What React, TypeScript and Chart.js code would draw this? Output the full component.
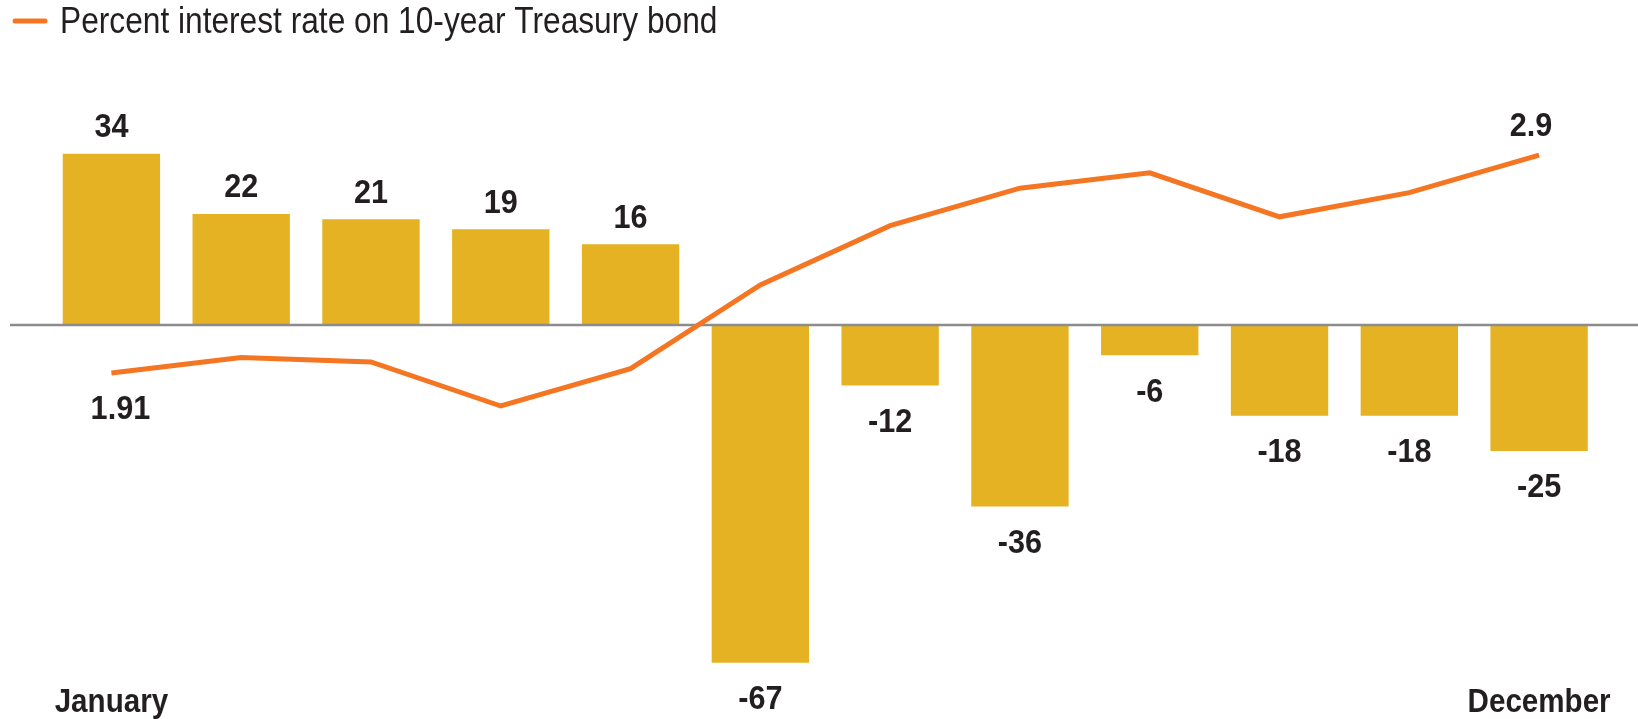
import React, { useEffect, useRef } from "react";
import { Chart, registerables } from "chart.js";

Chart.register(...registerables);

const months = [
  "January", "February", "March", "April", "May", "June",
  "July", "August", "September", "October", "November", "December",
];
const flowValues = [34, 22, 21, 19, 16, -67, -12, -36, -6, -18, -18, -25];
const rateValues = [1.91, 1.98, 1.96, 1.76, 1.93, 2.31, 2.58, 2.75, 2.82, 2.62, 2.73, 2.9];
const shownTickIndexes = [0, 11];
const labeledRateIndexes = [0, 11];
const legendLabel = "Percent interest rate on 10-year Treasury bond";

const BAR_COLOR = "#E5B223";
const LINE_COLOR = "#F47622";
const TEXT_COLOR = "#231F20";
const FONT = '"Liberation Sans", Arial, sans-serif';

function drawNarrowText(ctx: CanvasRenderingContext2D, text: string, x: number, y: number, sx: number) {
  ctx.save();
  ctx.translate(x, y);
  ctx.scale(sx, 1);
  ctx.fillText(text, 0, 0);
  ctx.restore();
}

const annotatePlugin = {
  id: "annotate",
  afterDatasetDraw(chart: any, args: any) {
    if (args.meta.type !== "bar") return;
    const ctx = chart.ctx;
    const y = chart.scales.yBar.getPixelForValue(0);
    ctx.save();
    ctx.strokeStyle = "#8C8C8C";
    ctx.lineWidth = 2.7;
    ctx.beginPath();
    ctx.moveTo(10, y);
    ctx.lineTo(chart.width, y);
    ctx.stroke();
    ctx.restore();
  },
  afterDatasetsDraw(chart: any) {
    const ctx = chart.ctx;
    ctx.save();
    ctx.fillStyle = TEXT_COLOR;
    ctx.textAlign = "center";
    ctx.textBaseline = "middle";
    ctx.font = `bold 34px ${FONT}`;
    const barMeta = chart.getDatasetMeta(0);
    barMeta.data.forEach((el: any, i: number) => {
      const v = flowValues[i];
      const p = el.getProps(["x", "y"], true);
      const ty = v >= 0 ? p.y - 26 : p.y + 37;
      drawNarrowText(ctx, String(v), p.x, ty, 0.9);
    });
    const lineMeta = chart.getDatasetMeta(1);
    labeledRateIndexes.forEach((i, k) => {
      const el = lineMeta.data[i];
      const p = el.getProps(["x", "y"], true);
      const v = rateValues[i];
      const below = k === 0;
      const tx = below ? p.x + 9 : p.x - 8;
      const ty = below ? p.y + 37 : p.y - 29;
      drawNarrowText(ctx, String(v), tx, ty, 0.9);
    });
    // category labels along the x scale
    const xScale = chart.scales.x;
    ctx.textBaseline = "alphabetic";
    shownTickIndexes.forEach((i) => {
      drawNarrowText(ctx, months[i], xScale.getPixelForValue(i), 711.5, 0.87);
    });
    ctx.restore();
  },
  afterDraw(chart: any) {
    const ctx = chart.ctx;
    ctx.save();
    ctx.strokeStyle = LINE_COLOR;
    ctx.lineWidth = 5;
    ctx.lineCap = "round";
    ctx.beginPath();
    ctx.moveTo(15, 21);
    ctx.lineTo(45, 21);
    ctx.stroke();
    ctx.fillStyle = TEXT_COLOR;
    ctx.textAlign = "left";
    ctx.textBaseline = "alphabetic";
    ctx.font = `36px ${FONT}`;
    drawNarrowText(ctx, legendLabel, 60, 33, 0.88);
    ctx.restore();
  },
};

export default function App() {
  const canvasRef = useRef<HTMLCanvasElement | null>(null);

  useEffect(() => {
    const canvas = canvasRef.current;
    if (!canvas) return;
    const chart = new Chart(canvas, {
      type: "bar",
      data: {
        labels: months,
        datasets: [
          {
            type: "bar",
            label: "Change",
            data: flowValues,
            backgroundColor: BAR_COLOR,
            borderWidth: 0,
            barPercentage: 0.75,
            categoryPercentage: 1,
            yAxisID: "yBar",
            order: 2,
          } as any,
          {
            type: "line",
            label: legendLabel,
            data: rateValues,
            borderColor: LINE_COLOR,
            borderWidth: 5,
            pointRadius: 0,
            tension: 0,
            fill: false,
            yAxisID: "yRate",
            order: 1,
          } as any,
        ],
      },
      options: {
        responsive: false,
        maintainAspectRatio: false,
        animation: false,
        layout: { padding: { top: 100, left: 46.5, right: 34, bottom: 39 } },
        plugins: {
          legend: { display: false },
          tooltip: { enabled: false },
        },
        scales: {
          x: {
            display: false,
            offset: true,
          },
          yBar: {
            type: "linear",
            position: "left",
            display: false,
            min: -70.44,
            max: 44.64,
          },
          yRate: {
            type: "linear",
            position: "right",
            display: false,
            min: 0.5145,
            max: 3.151,
          },
        },
      },
      plugins: [annotatePlugin],
    });
    return () => chart.destroy();
  }, []);

  return (
    <div style={{ position: "absolute", left: 0, top: 0, width: 1638, height: 719, background: "#fff" }}>
      <canvas ref={canvasRef} width={1638} height={719} style={{ display: "block" }} />
    </div>
  );
}
